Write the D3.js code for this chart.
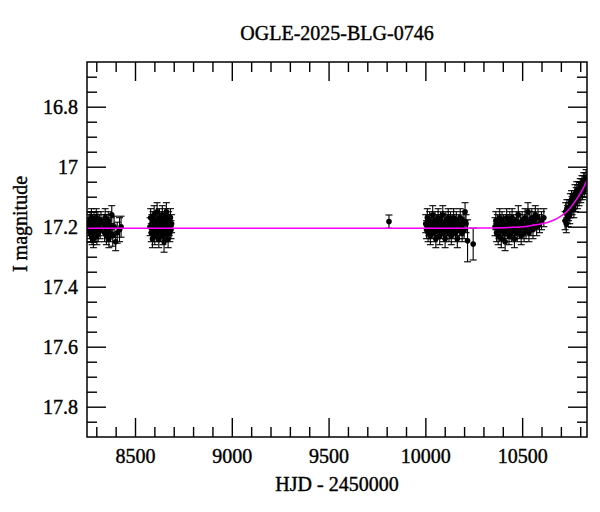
<!DOCTYPE html>
<html><head><meta charset="utf-8">
<script src="https://cdn.jsdelivr.net/npm/d3@7"></script>
<style>body{margin:0;background:#fff}svg text{font-family:"Liberation Serif","DejaVu Serif",serif;fill:#000;stroke:#000;stroke-width:0.4px}</style>
</head><body><svg id="c" width="600" height="512"></svg>
<script>
const title = "OGLE-2025-BLG-0746";
const xLabel = "HJD - 2450000";
const yLabel = "I magnitude";
const xMajor = [8500, 9000, 9500, 10000, 10500];
const yMajor = [16.8, 17, 17.2, 17.4, 17.6, 17.8];
const xDomain = [8252, 10835];
const yDomain = [16.651, 17.901];

const s1_t = [8258,8262,8265,8268,8270,8273,8275,8278,8280,8283,8285,8288,8290,8293,8295,8298,8300,8303,8305,8308,8310,8313,8316,8320,8324,8340,8343,8346,8349,8352,8355,8358,8362,8365,8370,8375,8380,8385,8392,8400,8408,8420,8428];
const s1_m = [17.20,17.19,17.21,17.18,17.22,17.20,17.17,17.23,17.19,17.21,17.24,17.18,17.20,17.22,17.19,17.21,17.17,17.23,17.20,17.18,17.22,17.20,17.19,17.21,17.18,17.19,17.22,17.17,17.20,17.23,17.19,17.21,17.18,17.24,17.22,17.20,17.16,17.23,17.20,17.25,17.22,17.21,17.20];
const s1_e = [0.03,0.03,0.03,0.03,0.03,0.03,0.03,0.03,0.03,0.03,0.03,0.03,0.03,0.03,0.03,0.03,0.03,0.03,0.03,0.03,0.03,0.03,0.03,0.03,0.03,0.03,0.03,0.03,0.03,0.03,0.03,0.03,0.03,0.03,0.03,0.03,0.03,0.035,0.035,0.03,0.035,0.04,0.035];

const s2_t = [8578,8581,8584,8587,8590,8593,8596,8599,8602,8605,8608,8611,8614,8617,8620,8623,8626,8629,8632,8635,8638,8641,8644,8647,8650,8653,8656,8659,8662,8665,8668,8671,8674,8677,8680,8683,8686,8689];
const s2_m = [17.20,17.17,17.22,17.19,17.24,17.18,17.21,17.16,17.23,17.20,17.18,17.22,17.15,17.21,17.19,17.24,17.17,17.20,17.22,17.18,17.21,17.16,17.23,17.19,17.25,17.20,17.17,17.22,17.15,17.21,17.19,17.24,17.18,17.20,17.22,17.17,17.21,17.19];
const s2_e = [0.03,0.03,0.03,0.03,0.03,0.03,0.03,0.03,0.03,0.03,0.03,0.03,0.03,0.03,0.03,0.03,0.03,0.03,0.03,0.03,0.03,0.03,0.03,0.03,0.035,0.03,0.03,0.03,0.03,0.03,0.03,0.03,0.03,0.03,0.03,0.03,0.03,0.03];

const s3_t = [9812];
const s3_m = [17.183];
const s3_e = [0.022];

const s4_t = [10002,10006,10010,10014,10018,10022,10026,10030,10034,10038,10042,10046,10050,10054,10058,10062,10066,10070,10074,10078,10082,10086,10090,10094,10098,10102,10106,10110,10114,10118,10122,10126,10130,10134,10138,10142,10146,10150,10155,10160,10165,10170,10175,10180,10185,10190,10195,10200,10205,10210,10218,10247];
const s4_m = [17.19,17.21,17.17,17.22,17.20,17.18,17.23,17.19,17.21,17.16,17.20,17.22,17.18,17.24,17.19,17.21,17.17,17.20,17.23,17.18,17.21,17.19,17.16,17.22,17.20,17.24,17.18,17.21,17.19,17.17,17.22,17.20,17.18,17.23,17.19,17.21,17.17,17.20,17.22,17.18,17.24,17.19,17.21,17.17,17.20,17.22,17.18,17.21,17.15,17.19,17.247,17.258];
const s4_e = [0.03,0.03,0.03,0.03,0.03,0.03,0.03,0.03,0.03,0.03,0.03,0.03,0.03,0.03,0.03,0.03,0.03,0.03,0.03,0.03,0.03,0.03,0.03,0.03,0.03,0.03,0.03,0.03,0.03,0.03,0.03,0.03,0.03,0.03,0.03,0.03,0.03,0.03,0.03,0.03,0.03,0.03,0.03,0.03,0.03,0.03,0.03,0.03,0.03,0.03,0.07,0.053];

const s5_t = [10360,10364,10368,10372,10376,10380,10384,10388,10392,10396,10400,10404,10408,10412,10416,10420,10424,10428,10432,10436,10440,10444,10448,10452,10456,10460,10465,10470,10475,10480,10485,10490,10495,10500,10505,10510,10515,10520,10525,10530,10535,10540,10545,10550,10556,10562,10568,10575,10582,10590,10600,10612];
const s5_m = [17.20,17.18,17.22,17.19,17.23,17.21,17.17,17.20,17.24,17.18,17.21,17.19,17.22,17.25,17.20,17.17,17.21,17.19,17.23,17.18,17.20,17.22,17.17,17.21,17.19,17.24,17.20,17.18,17.22,17.16,17.21,17.19,17.23,17.18,17.20,17.22,17.17,17.21,17.19,17.15,17.22,17.18,17.20,17.17,17.21,17.18,17.16,17.20,17.17,17.19,17.18,17.17];
const s5_e = [0.03,0.03,0.03,0.03,0.03,0.03,0.03,0.03,0.03,0.03,0.03,0.03,0.03,0.03,0.03,0.03,0.03,0.03,0.03,0.03,0.03,0.03,0.03,0.03,0.03,0.03,0.03,0.03,0.03,0.03,0.03,0.03,0.03,0.03,0.03,0.03,0.03,0.03,0.03,0.03,0.03,0.03,0.03,0.03,0.03,0.03,0.03,0.03,0.03,0.03,0.03,0.03];

const s6_t = [10722,10725,10728,10731,10734,10737,10740,10743,10746,10749,10752,10755,10758,10761,10764,10767,10770,10773,10776,10779,10782,10785,10788,10791,10794,10797,10800,10803,10806,10809,10812,10815,10818,10821,10824,10827,10830];
const s6_m = [17.18,17.15,17.19,17.14,17.16,17.17,17.15,17.14,17.16,17.12,17.14,17.11,17.13,17.12,17.12,17.14,17.11,17.09,17.12,17.10,17.08,17.11,17.09,17.08,17.10,17.08,17.07,17.09,17.07,17.06,17.08,17.06,17.05,17.07,17.05,17.06,17.04];
const s6_e = [0.03,0.03,0.03,0.03,0.03,0.03,0.03,0.03,0.03,0.03,0.03,0.03,0.03,0.03,0.03,0.03,0.03,0.03,0.03,0.03,0.03,0.03,0.03,0.03,0.03,0.03,0.03,0.03,0.03,0.03,0.03,0.03,0.03,0.03,0.03,0.03,0.03];

const model_t = [8252,9000,10000,10300,10450,10520,10580,10630,10670,10700,10730,10760,10790,10815,10835];
const model_m = [17.205,17.205,17.205,17.204,17.202,17.199,17.193,17.186,17.176,17.165,17.150,17.128,17.100,17.072,17.045];

const svg = d3.select("#c");
const L = 87, R = 587, T = 62, B = 437;
const x = d3.scaleLinear().domain(xDomain).range([L, R]);
const y = d3.scaleLinear().domain(yDomain).range([T, B]);

const xMinor = d3.range(8300, 10836, 100).filter(v => !xMajor.includes(v));
const yMinor = d3.range(16.70, 17.9, 0.05).map(v => +v.toFixed(2)).filter(v => !yMajor.some(m => Math.abs(m - v) < 1e-6));

const fontSize = 20;

function styleAxis(g) {
  g.select(".domain").remove();
  g.selectAll(".tick line").attr("stroke", "#000").attr("stroke-width", 1.4);
}
// bottom
svg.append("g").attr("transform", `translate(0,${B})`)
  .call(d3.axisBottom(x).tickValues(xMajor).tickSize(-19).tickFormat(d3.format("d")))
  .call(styleAxis).call(g => g.selectAll("text").attr("font-size", fontSize).attr("font-family", null).attr("fill", null).attr("dy", 0).attr("y", 26));
svg.append("g").attr("transform", `translate(0,${B})`)
  .call(d3.axisBottom(x).tickValues(xMinor).tickSize(-10).tickFormat("")).call(styleAxis);
// top
svg.append("g").attr("transform", `translate(0,${T})`)
  .call(d3.axisTop(x).tickValues(xMajor).tickSize(-19).tickFormat("")).call(styleAxis);
svg.append("g").attr("transform", `translate(0,${T})`)
  .call(d3.axisTop(x).tickValues(xMinor).tickSize(-10).tickFormat("")).call(styleAxis);
// left
svg.append("g").attr("transform", `translate(${L},0)`)
  .call(d3.axisLeft(y).tickValues(yMajor).tickSize(-19).tickPadding(9).tickFormat(d => String(d)))
  .call(styleAxis).call(g => g.selectAll("text").attr("font-size", fontSize).attr("font-family", null).attr("fill", null).attr("dy", "0.32em"));
svg.append("g").attr("transform", `translate(${L},0)`)
  .call(d3.axisLeft(y).tickValues(yMinor).tickSize(-10).tickFormat("")).call(styleAxis);
// right
svg.append("g").attr("transform", `translate(${R},0)`)
  .call(d3.axisRight(y).tickValues(yMajor).tickSize(-19).tickFormat("")).call(styleAxis);
svg.append("g").attr("transform", `translate(${R},0)`)
  .call(d3.axisRight(y).tickValues(yMinor).tickSize(-10).tickFormat("")).call(styleAxis);

// data
const seasons = [[s1_t,s1_m,s1_e],[s2_t,s2_m,s2_e],[s3_t,s3_m,s3_e],[s4_t,s4_m,s4_e],[s5_t,s5_m,s5_e],[s6_t,s6_m,s6_e]];
const pts = [];
seasons.forEach(([t,m,e]) => t.forEach((v,i) => pts.push({t:v, m:m[i], e:e[i]})));

svg.append("clipPath").attr("id","clip").append("rect").attr("x",L).attr("y",T).attr("width",R-L).attr("height",B-T);
const gd = svg.append("g").attr("clip-path","url(#clip)");
const eb = gd.append("g").attr("stroke","#000").attr("stroke-width",1.1);
pts.forEach(p => {
  const cx = x(p.t), y1 = y(p.m - p.e), y2 = y(p.m + p.e);
  eb.append("line").attr("x1",cx).attr("x2",cx).attr("y1",y1).attr("y2",y2);
  eb.append("line").attr("x1",cx-3.5).attr("x2",cx+3.5).attr("y1",y1).attr("y2",y1);
  eb.append("line").attr("x1",cx-3.5).attr("x2",cx+3.5).attr("y1",y2).attr("y2",y2);
});
gd.append("g").selectAll("circle").data(pts).join("circle")
  .attr("cx", d => x(d.t)).attr("cy", d => y(d.m)).attr("r", 2.8).attr("fill", "#000");

const model = model_t.map((t,i) => ({t, m: model_m[i]}));
gd.append("path").datum(model)
  .attr("fill","none").attr("stroke","#ff00ff").attr("stroke-width",1.5)
  .attr("d", d3.line().x(d => x(d.t)).y(d => y(d.m)).curve(d3.curveMonotoneX));

// frame
svg.append("rect").attr("x",L).attr("y",T).attr("width",R-L).attr("height",B-T)
  .attr("fill","none").attr("stroke","#000").attr("stroke-width",1.5);

// labels
svg.append("text").attr("x",337).attr("y",39.5).attr("text-anchor","middle").attr("font-size",fontSize).text(title);
svg.append("text").attr("x",337).attr("y",491).attr("text-anchor","middle").attr("font-size",fontSize).text(xLabel);
svg.append("text").attr("transform","translate(27,224) rotate(-90)").attr("text-anchor","middle").attr("font-size",fontSize).text(yLabel);
</script></body></html>
